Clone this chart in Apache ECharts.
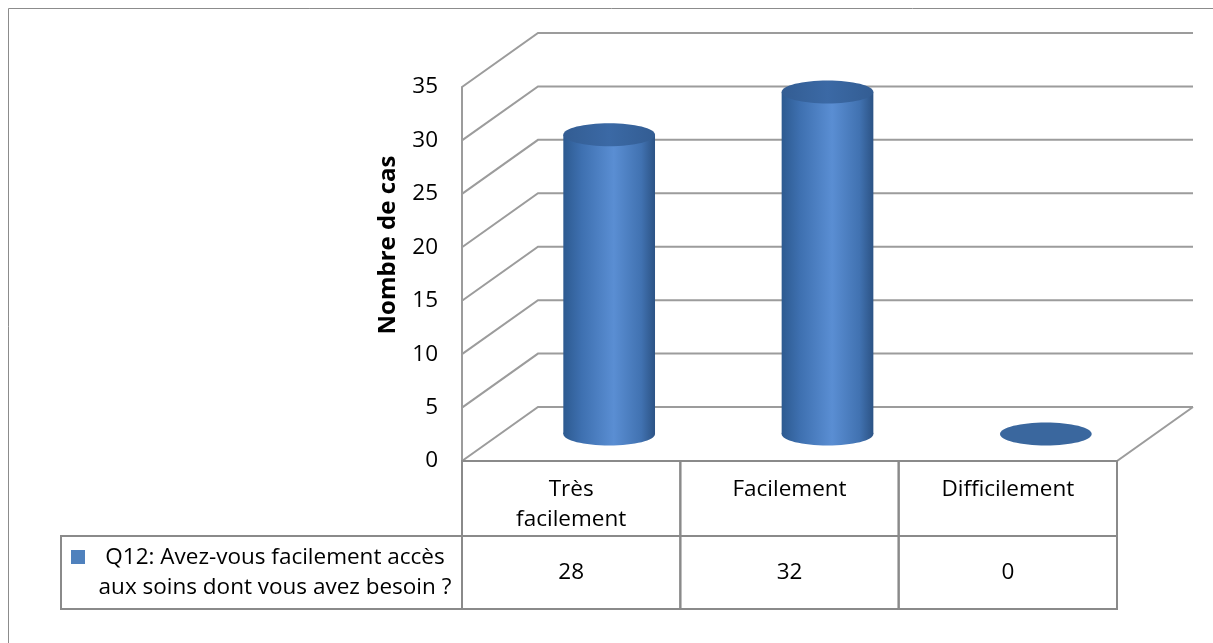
<!DOCTYPE html>
<html>
<head>
<meta charset="utf-8">
<script src="https://cdn.jsdelivr.net/npm/echarts@6/dist/echarts.min.js"></script>
<style>
  html, body { margin: 0; padding: 0; background: #fff; }
  #chart { width: 1213px; height: 643px; }
</style>
</head>
<body>
<div id="chart"></div>
<script>
// données du graphique
var categories = ['Très\nfacilement', 'Facilement', 'Difficilement'];
var values = [28, 32, 0];
var seriesName = 'Q12: Avez-vous facilement accès\naux soins dont vous avez besoin ?';
var yTicks = [0, 5, 10, 15, 20, 25, 30, 35];
var axisTitle = 'Nombre de cas';

var DX = 76, DY = -54; // profondeur du mur du fond
var FONT = '"Open Sans", sans-serif';
var FS = 22.5;
var lineCol = '#9c9c9c';
var tableCol = '#8a8a8a';

var chart = echarts.init(document.getElementById('chart'));

function noFill(w, c) {
    return {fill: 'none', stroke: c || lineCol, lineWidth: w || 2};
}

// murs + grille en perspective
function renderWall(params, api) {
    var cs = params.coordSys;
    var v = api.value(1);
    var y = api.coord([0, v])[1];
    var x0 = cs.x, x1 = cs.x + cs.width;
    var kids = [{
        type: 'polyline',
        shape: {points: [[x0, y], [x0 + DX, y + DY], [x1 + DX, y + DY]]},
        style: noFill()
    }];
    if (v === 0) {
        kids.push({
            type: 'polyline',
            shape: {points: [[x0, y], [x1, y], [x1 + DX, y + DY]]},
            style: noFill()
        });
    }
    return {type: 'group', children: kids};
}

// cylindres
function renderCyl(params, api) {
    var i = api.value(0), v = api.value(1);
    var top = api.coord([i, v]);
    var base = api.coord([i, 0]);
    var bw = api.size([1, 0])[0];
    var rx = bw * 0.21, ry = 11.5;
    var cx = top[0] + DX / 2;
    var ty = top[1] + DY / 2, by = base[1] + DY / 2;
    if (v === 0) {
        return {type: 'ellipse', shape: {cx: cx, cy: by, rx: rx, ry: ry}, style: {fill: '#3a679e'}};
    }
    var body = new echarts.graphic.LinearGradient(0, 0, 1, 0, [
        {offset: 0, color: '#2d5a90'},
        {offset: 0.2, color: '#3e70b0'},
        {offset: 0.55, color: '#5a8ed3'},
        {offset: 0.85, color: '#4172b1'},
        {offset: 1, color: '#2c5385'}
    ]);
    var cap = new echarts.graphic.LinearGradient(0, 0, 1, 0, [
        {offset: 0, color: '#335d93'},
        {offset: 0.5, color: '#3b69a5'},
        {offset: 1, color: '#335d93'}
    ]);
    return {
        type: 'group',
        children: [
            {type: 'rect', shape: {x: cx - rx, y: ty, width: rx * 2, height: by - ty}, style: {fill: body}},
            {type: 'ellipse', shape: {cx: cx, cy: by, rx: rx, ry: ry}, style: {fill: body}},
            {type: 'ellipse', shape: {cx: cx, cy: ty, rx: rx, ry: ry}, style: {fill: cap}}
        ]
    };
}

// table de données
function renderTable(params, api) {
    var i = api.value(0);
    var c = api.coord([i, 0]);
    var bw = api.size([1, 0])[0];
    var xL = c[0] - bw / 2, y0 = c[1];
    var h1 = 75, h2 = 73;
    var kids = [
        {type: 'rect', shape: {x: xL, y: y0, width: bw, height: h1}, style: noFill(2, tableCol)},
        {type: 'rect', shape: {x: xL, y: y0 + h1, width: bw, height: h2}, style: noFill(2, tableCol)},
        {type: 'text', x: c[0], y: y0 + 14, style: {
            text: categories[i], fontFamily: FONT, fontSize: FS, lineHeight: 30,
            align: 'center', verticalAlign: 'top', fill: '#000'}},
        {type: 'text', x: c[0], y: y0 + h1 + h2 / 2, style: {
            text: String(values[i]), fontFamily: FONT, fontSize: FS,
            align: 'center', verticalAlign: 'middle', fill: '#000'}}
    ];
    if (i === 0) {
        var lx = 61;
        kids.push(
            {type: 'rect', shape: {x: lx, y: y0 + h1, width: xL - lx, height: h2}, style: noFill(2, tableCol)},
            {type: 'rect', shape: {x: 71, y: y0 + h1 + 14, width: 14, height: 14}, style: {fill: '#4f81bd'}},
            {type: 'text', x: (88 + xL) / 2, y: y0 + h1 + h2 / 2, style: {
                text: seriesName, fontFamily: FONT, fontSize: FS, lineHeight: 30,
                align: 'center', verticalAlign: 'middle', fill: '#000'}}
        );
    }
    return {type: 'group', children: kids};
}

var pts = categories.map(function (c, i) { return [i, values[i]]; });

chart.setOption({
    animation: false,
    backgroundColor: '#fff',
    grid: {left: 462, right: 96, top: 87, bottom: 182},
    xAxis: {
        type: 'category', data: categories,
        axisLine: {show: false}, axisTick: {show: false}, axisLabel: {show: false}
    },
    yAxis: {
        type: 'value', min: 0, max: 35, interval: 5,
        axisLine: {show: true, lineStyle: {color: lineCol, width: 2}},
        axisTick: {show: false},
        splitLine: {show: false},
        axisLabel: {fontFamily: FONT, fontSize: FS, color: '#000', margin: 24}
    },
    graphic: [
        {type: 'rect', shape: {x: 8.5, y: 8.5, width: 1300, height: 700},
            style: {fill: 'none', stroke: '#8c8c8c', lineWidth: 1}},
        {type: 'text', x: 388, y: 245, rotation: Math.PI / 2,
            style: {text: axisTitle, font: 'bold 24px "Open Sans", sans-serif',
                align: 'center', verticalAlign: 'middle', fill: '#000'}}
    ],
    series: [
        {type: 'custom', name: 'mur', renderItem: renderWall, z: 1,
            data: yTicks.map(function (t) { return [0, t]; })},
        {type: 'custom', name: 'table', renderItem: renderTable, z: 2, data: pts},
        {type: 'custom', name: seriesName, renderItem: renderCyl, z: 3, data: pts}
    ]
});
</script>
</body>
</html>
